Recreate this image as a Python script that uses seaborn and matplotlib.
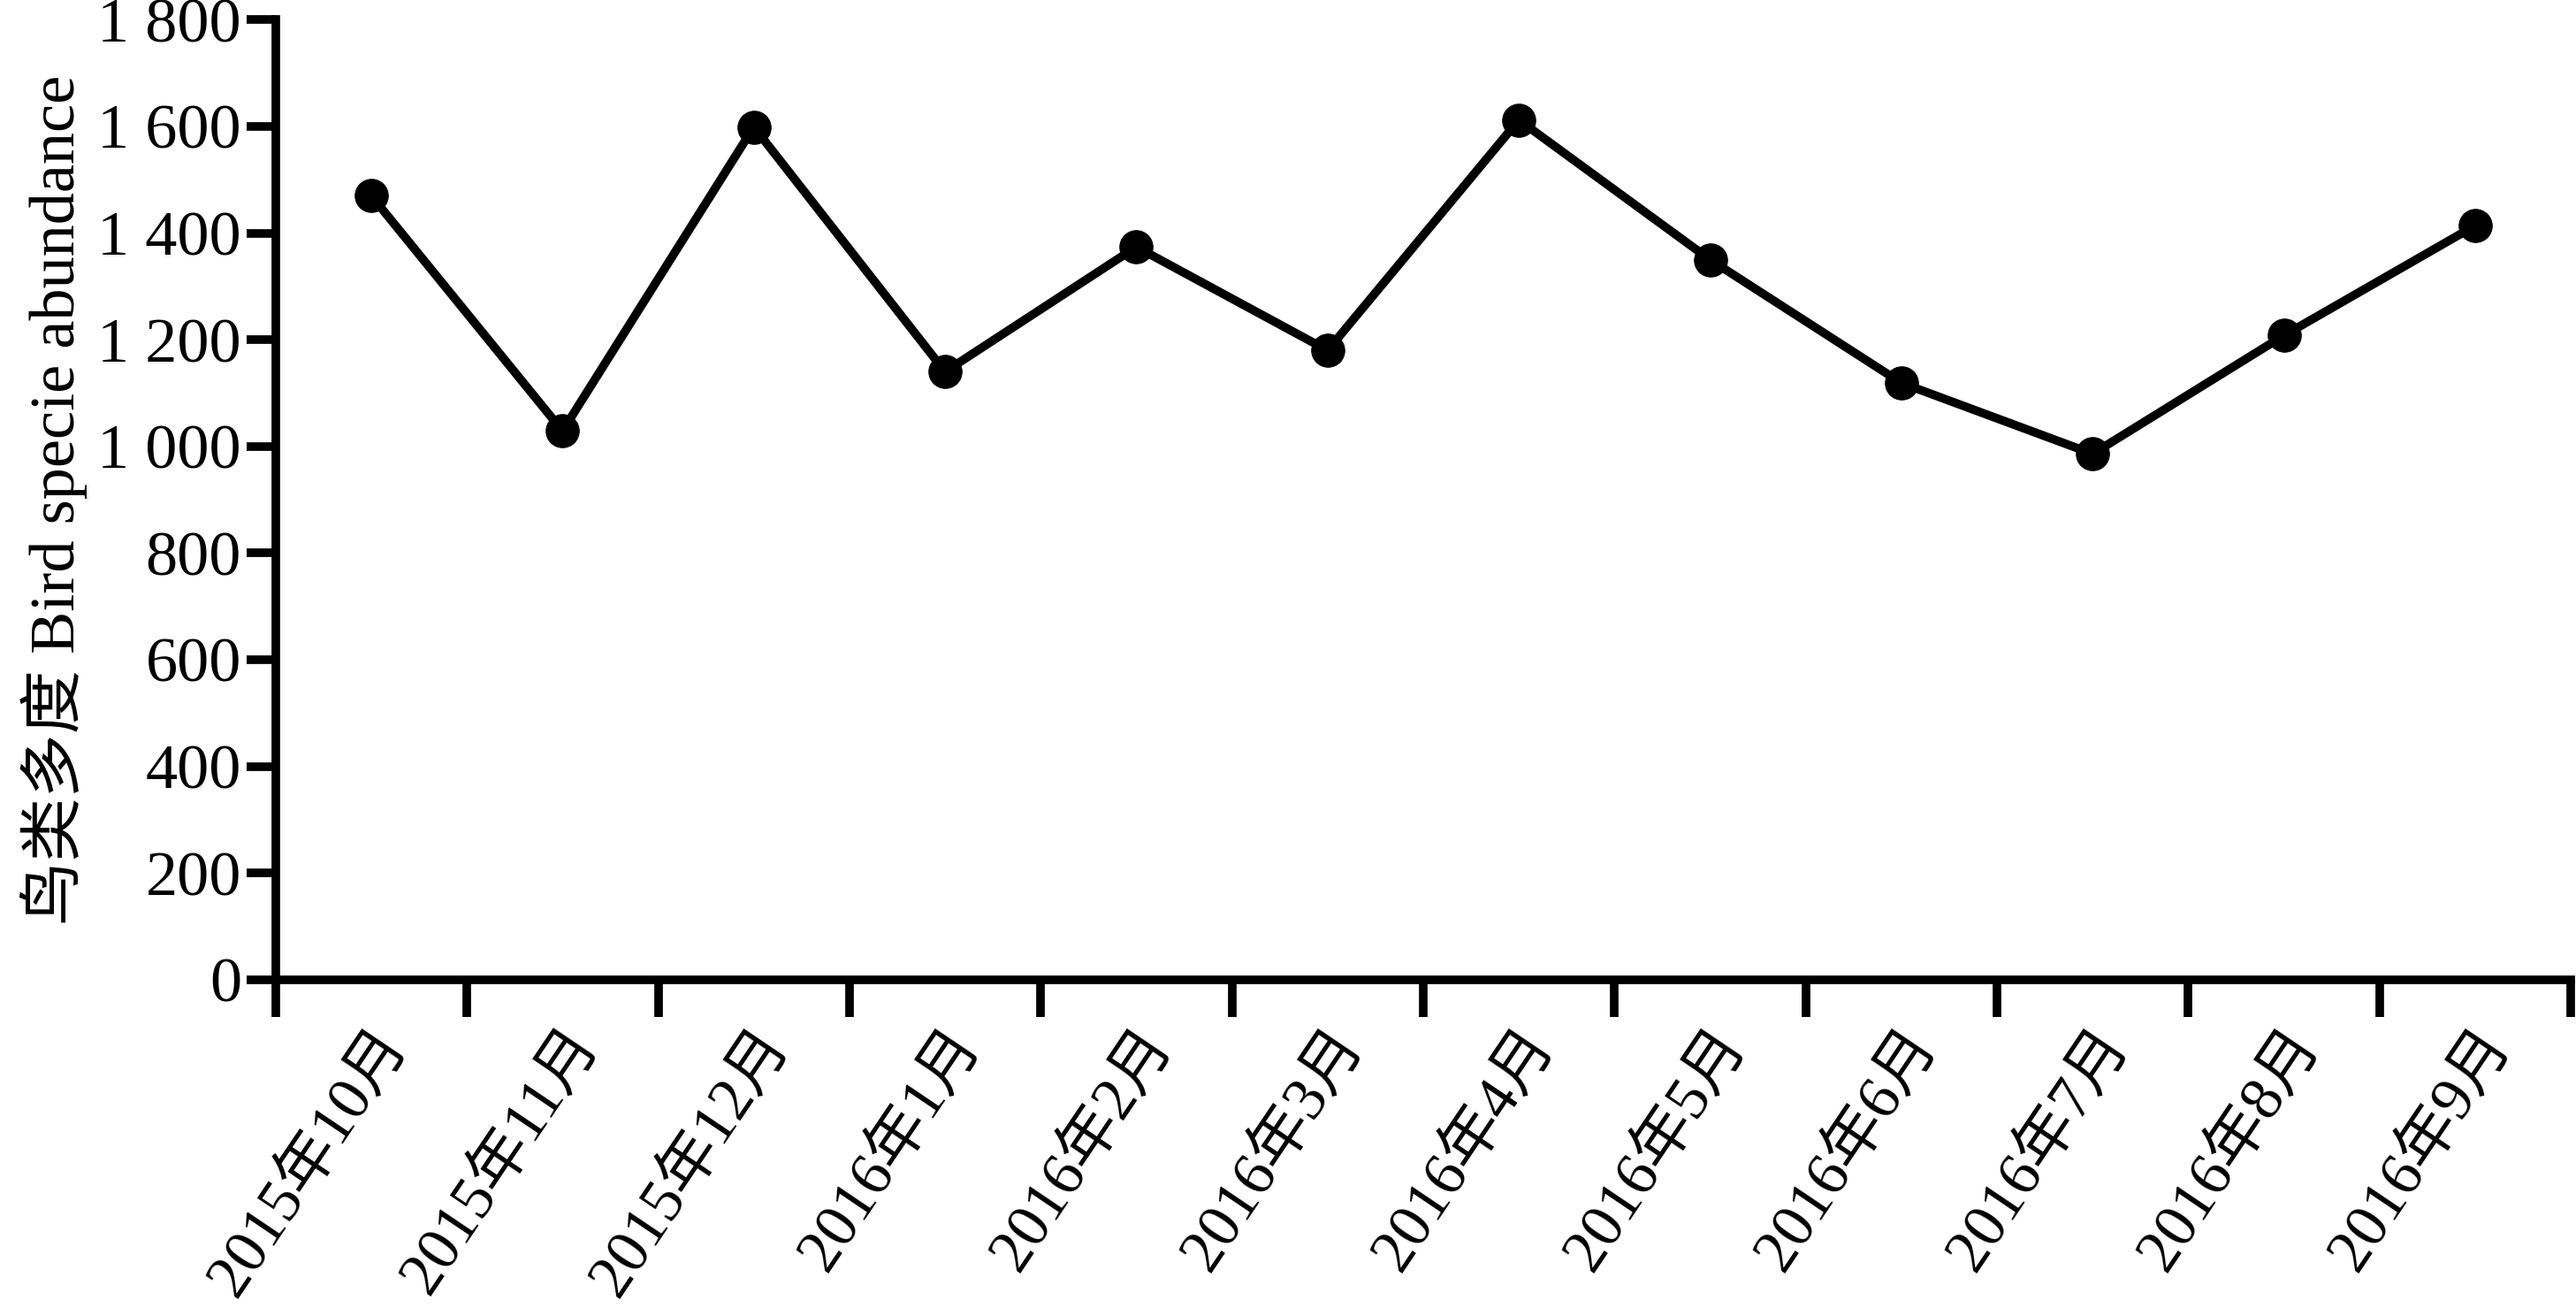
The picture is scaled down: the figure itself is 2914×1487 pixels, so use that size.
"""Bird species abundance by month, line chart."""

import matplotlib.pyplot as plt
import matplotlib.ticker as mticker
import numpy as np
import pandas as pd
import seaborn as sns


months = [
    "2015年10月", "2015年11月", "2015年12月", "2016年1月", "2016年2月", "2016年3月",
    "2016年4月", "2016年5月", "2016年6月", "2016年7月", "2016年8月", "2016年9月",
]
abundance = [1470, 1029, 1599, 1140, 1374, 1180, 1612, 1350, 1119, 986, 1208, 1414]
y_ticks = [0, 200, 400, 600, 800, 1000, 1200, 1400, 1600, 1800]

sns.set_style("ticks")
plt.rcParams["font.family"] = ["Liberation Serif", "Noto Sans CJK SC"]
plt.rcParams.update({
    "axes.linewidth": 7,
    "axes.edgecolor": "black",
    "axes.labelcolor": "black",
    "text.color": "black",
    "xtick.color": "black",
    "ytick.color": "black",
})

df = pd.DataFrame({"month": months, "abundance": abundance})
df["pos"] = np.arange(len(months))

fig = plt.figure(figsize=(29.14, 14.87), dpi=100)
ax = fig.add_axes([0.107, 0.255, 0.891, 0.730])

sns.lineplot(data=df, x="pos", y="abundance", color="black", linewidth=7,
             marker="o", markersize=27, markeredgecolor="black", ax=ax)

ax.set_xlim(-0.5, len(months) - 0.5)
ax.set_ylim(0, 1800)
ax.set_yticks(y_ticks)
ax.yaxis.set_major_formatter(mticker.FuncFormatter(lambda v, _: f"{int(v):,}".replace(",", " ")))

ax.set_xticks(np.arange(-0.5, len(months)))
ax.set_xticklabels([])
ax.set_xticks(np.arange(len(months)), minor=True)
ax.set_xticklabels(months, minor=True, rotation=56, ha="right", rotation_mode="anchor", fontsize=50)
ax.tick_params(axis="x", which="major", direction="out", length=30, width=7)
ax.tick_params(axis="x", which="minor", length=0, pad=32)
ax.tick_params(axis="y", direction="out", length=24, width=7, labelsize=52, pad=4)

for side in ["top", "right"]:
    ax.spines[side].set_visible(False)

ax.set_xlabel("")
ax.set_ylabel("鸟类多度 Bird specie abundance", fontsize=52, labelpad=8)

fig.savefig("out.png", dpi=100)
plt.close(fig)
